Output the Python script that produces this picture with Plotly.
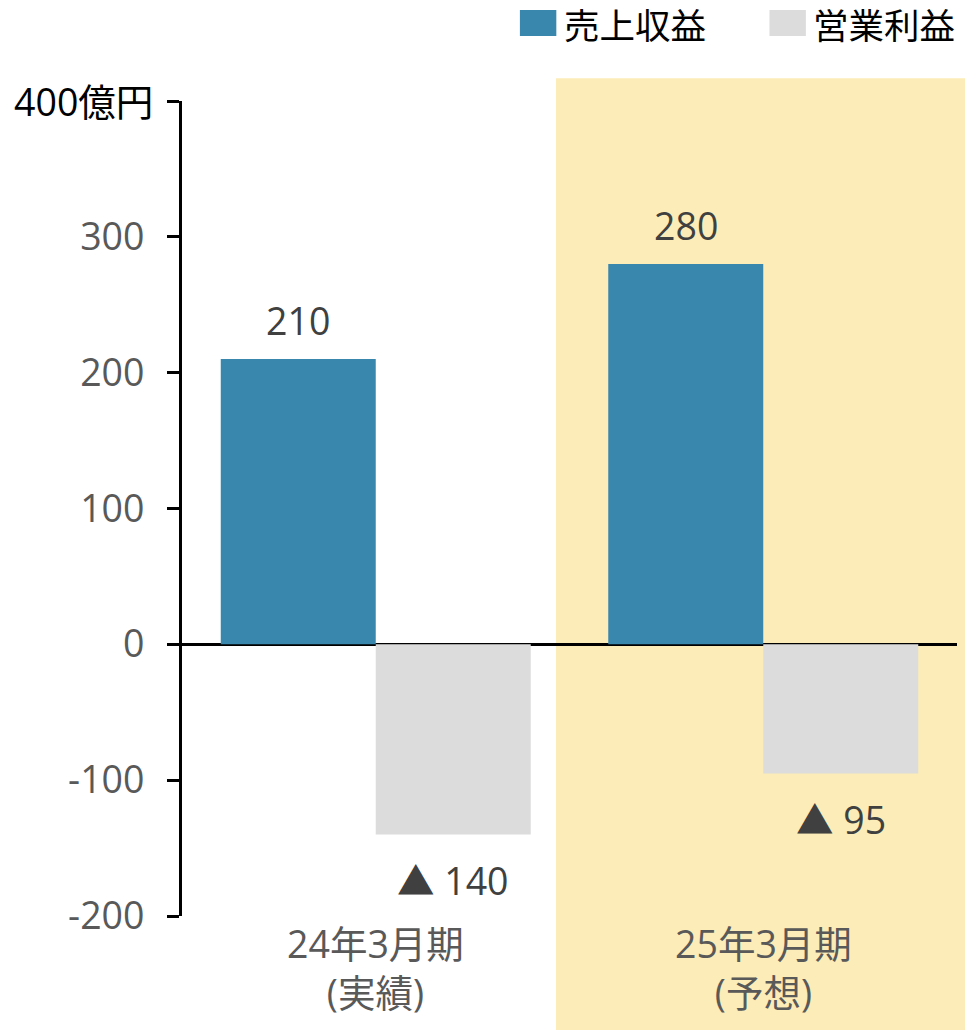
import plotly.graph_objects as go

# Fiscal periods and values (億円)
period_names = ["24年3月期", "25年3月期"]
period_types = ["(実績)", "(予想)"]
revenue = [210, 280]
operating_income = [-140, -95]
series_names = ["売上収益", "営業利益"]
y_ticks = [-200, -100, 0, 100, 200, 300, 400]
y_unit = "億円"

BLUE = "#3A87AD"
GREY = "#DCDCDC"
HIGHLIGHT = "#FCECB7"
TICK_GREY = "#595959"
LABEL_DARK = "#404040"
FONT = "Open Sans, Noto Sans CJK JP, sans-serif"
FS = 37.5

x_idx = list(range(len(period_names)))

fig = go.Figure()
fig.add_trace(go.Bar(x=x_idx, y=revenue, name=series_names[0],
                     marker=dict(color=BLUE, line=dict(width=0)),
                     offsetgroup="a", showlegend=False))
fig.add_trace(go.Bar(x=x_idx, y=operating_income, name=series_names[1],
                     marker=dict(color=GREY, line=dict(width=0)),
                     offsetgroup="b", showlegend=False))

# Value labels above / below each bar
def fmt(v):
    return f"▲ {abs(v)}" if v < 0 else f"{v}"

annotations = []
for i in x_idx:
    for v, dx in ((revenue[i], -0.2), (operating_income[i], 0.2)):
        annotations.append(dict(
            x=i + dx, y=v, xref="x", yref="y", text=fmt(v), showarrow=False,
            xanchor="center", yanchor="middle",
            yshift=39 if v >= 0 else -46,
            font=dict(family=FONT, size=FS, color=LABEL_DARK)))

# Period labels under the axis (two lines)
for i in x_idx:
    annotations.append(dict(
        x=i, y=0, xref="x", yref="paper",
        text=f"{period_names[i]}<br>{period_types[i]}", showarrow=False,
        xanchor="center", yanchor="middle", yshift=-52, borderpad=0,
        font=dict(family=FONT, size=FS, color=TICK_GREY)))

# Unit label on the top tick
annotations.append(dict(
    x=0, y=y_ticks[-1], xref="paper", yref="y", text=f"{y_ticks[-1]}{y_unit}",
    showarrow=False, xanchor="right", yanchor="middle", xshift=-27,
    font=dict(family=FONT, size=FS, color="#000000")))

# Legend drawn as swatches + text
legend_items = [(series_names[0], BLUE, 0.436), (series_names[1], GREY, 0.758)]
shapes = []
for name, color, x0 in legend_items:
    shapes.append(dict(type="rect", xref="paper", yref="paper",
                       x0=x0, x1=x0 + 0.047, y0=1.0798, y1=1.1117,
                       fillcolor=color, line=dict(width=0), layer="above"))
    annotations.append(dict(
        x=x0 + 0.055, y=1.0933, xref="paper", yref="paper", text=name,
        showarrow=False, xanchor="left", yanchor="middle", borderpad=0,
        font=dict(family=FONT, size=35.5, color="#000000")))

# Forecast-period background band
shapes.append(dict(type="rect", xref="paper", yref="paper",
                   x0=0.4826, x1=1.0103, y0=-0.14, y1=1.028,
                   fillcolor=HIGHLIGHT, line=dict(width=0), layer="below"))

fig.update_layout(
    width=965, height=1030,
    margin=dict(l=182, r=8, t=101, b=114, pad=0),
    paper_bgcolor="white", plot_bgcolor="rgba(0,0,0,0)",
    barmode="group", bargap=0.2, bargroupgap=0,
    font=dict(family=FONT),
    shapes=shapes, annotations=annotations,
)

fig.update_xaxes(
    range=[-0.5, len(period_names) - 0.5], showticklabels=False,
    showgrid=False, zeroline=False, showline=False, ticks="",
)

fig.update_yaxes(
    range=[y_ticks[0], y_ticks[-1]], tickmode="array", tickvals=y_ticks,
    ticktext=[str(t) if t != y_ticks[-1] else "" for t in y_ticks],
    showgrid=False, zeroline=True, zerolinecolor="#000000", zerolinewidth=3,
    showline=True, linecolor="#000000", linewidth=3,
    ticks="outside", ticklen=12, tickwidth=3, tickcolor="#000000",
    ticklabelstandoff=15,
    tickfont=dict(family=FONT, size=FS, color=TICK_GREY),
)

fig.write_html("out.html")
